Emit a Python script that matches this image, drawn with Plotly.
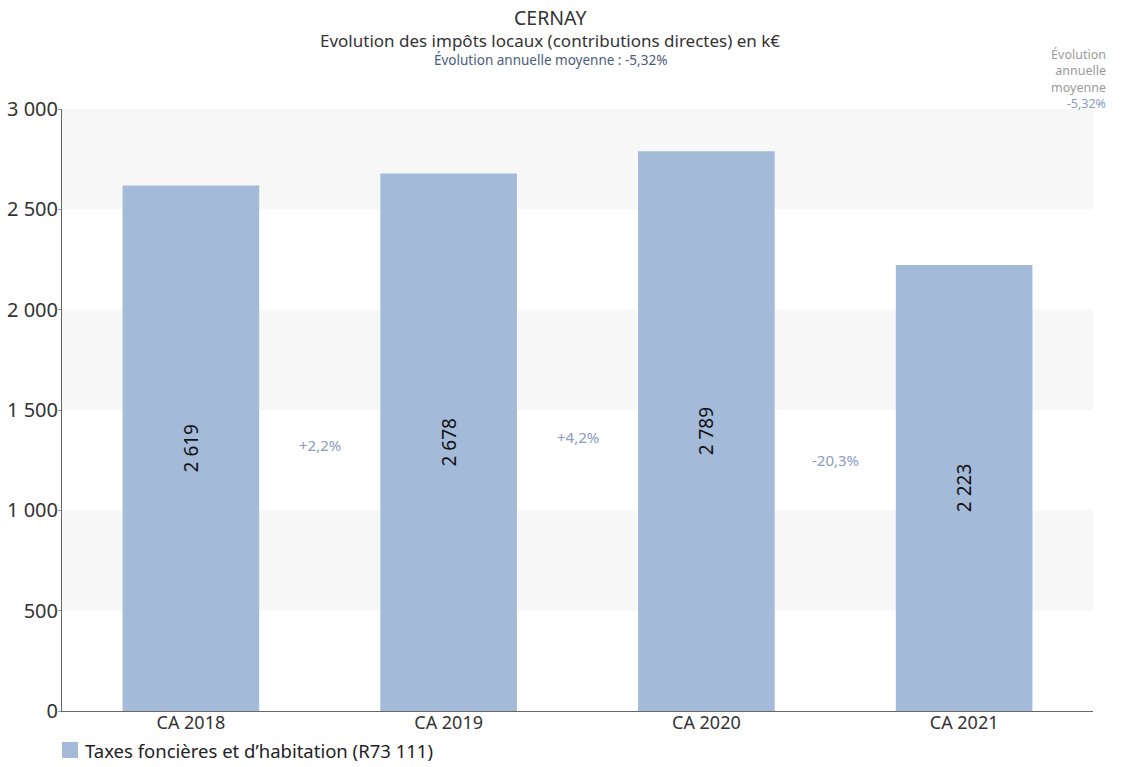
import plotly.graph_objects as go

categories = ["CA 2018", "CA 2019", "CA 2020", "CA 2021"]
values = [2619, 2678, 2789, 2223]
changes = ["+2,2%", "+4,2%", "-20,3%"]
avg_change = "-5,32%"
series_name = "Taxes foncières et d’habitation (R73 111)"
y_ticks = [0, 500, 1000, 1500, 2000, 2500, 3000]

FONT = "Noto Sans"
BAR = "#a4bad9"

W, H = 1145, 767
L, R, T, B = 62, 52, 109, 56
PW, PH = W - L - R, H - T - B


def fmt(v):
    return f"{v:,}".replace(",", " ")


def px_x(x):
    return (x - L) / PW


def px_y(y):
    return 1 + (T - y) / PH


fig = go.Figure()
fig.add_trace(go.Bar(
    x=categories,
    y=values,
    name=series_name,
    marker=dict(color=BAR, line=dict(width=0)),
    text=[fmt(v) for v in values],
    textposition="inside",
    insidetextanchor="middle",
    textangle=-90,
    textfont=dict(family=FONT, size=19, color="#111111"),
    constraintext="none",
    hoverinfo="x+y",
    showlegend=False,
))

# alternating horizontal bands
shapes = []
for i, lo in enumerate(y_ticks[:-1]):
    if i % 2 == 1:
        shapes.append(dict(type="rect", xref="paper", yref="y", x0=0, x1=1,
                           y0=lo, y1=y_ticks[i + 1], fillcolor="#f7f7f7",
                           line=dict(width=0), layer="below"))

# legend swatch
shapes.append(dict(type="rect", xref="paper", yref="paper",
                   x0=px_x(62), x1=px_x(78), y0=px_y(758), y1=px_y(742),
                   fillcolor=BAR, line=dict(width=0)))

annotations = []
# year-on-year change between consecutive bars
for i, txt in enumerate(changes):
    mid = (values[i] + values[i + 1]) / 4
    annotations.append(dict(x=i + 0.5, y=mid, xref="x", yref="y", text=txt,
                            showarrow=False,
                            font=dict(family=FONT, size=15, color="#8a9cc2")))

# titles
title_lines = [
    ("CERNAY", 19.5, 18, "#333333"),
    ("Evolution des impôts locaux (contributions directes) en k€", 17, 41, "#333333"),
    ("Évolution annuelle moyenne : " + avg_change, 13.5, 60, "#4a5d7c"),
]
for txt, size, ypx, col in title_lines:
    annotations.append(dict(x=px_x(550), y=px_y(ypx), xref="paper", yref="paper",
                            text=txt, showarrow=False, xanchor="center", yanchor="middle",
                            font=dict(family=FONT, size=size, color=col)))

# average-evolution box at the top right
annotations.append(dict(
    x=px_x(1108), y=px_y(79), xref="paper", yref="paper",
    text="Évolution<br>annuelle<br>moyenne<br><span style='color:#8a9cc2'>"
    + avg_change + "</span>",
    showarrow=False, xanchor="right", yanchor="middle", align="right",
    font=dict(family=FONT, size=12.5, color="#9a9a9a")))

# legend label
annotations.append(dict(
    x=px_x(83), y=px_y(750), xref="paper", yref="paper", text=series_name,
    showarrow=False, xanchor="left", yanchor="middle",
    font=dict(family=FONT, size=18.5, color="#222222")))

fig.update_layout(
    width=W, height=H,
    margin=dict(l=L, r=R, t=T, b=B, pad=0, autoexpand=False),
    plot_bgcolor="white", paper_bgcolor="white",
    separators=", ",
    bargap=0.47,
    font=dict(family=FONT, color="#333333"),
    shapes=shapes,
    annotations=annotations,
    showlegend=False,
    xaxis=dict(showgrid=False, showline=True, linecolor="#666666", linewidth=1,
               ticks="", tickfont=dict(family=FONT, size=18, color="#333333"),
               ticklabelstandoff=-5,
               fixedrange=True, automargin=False),
    yaxis=dict(range=[0, 3000], tickvals=y_ticks, tickformat=",d",
               showgrid=False, zeroline=False, showline=True, linecolor="#666666",
               linewidth=1, ticks="outside", ticklen=3, tickcolor="#999999",
               tickfont=dict(family=FONT, size=20, color="#333333"),
               ticklabelstandoff=-4,
               fixedrange=True, automargin=False),
)

fig.write_html("out.html")
